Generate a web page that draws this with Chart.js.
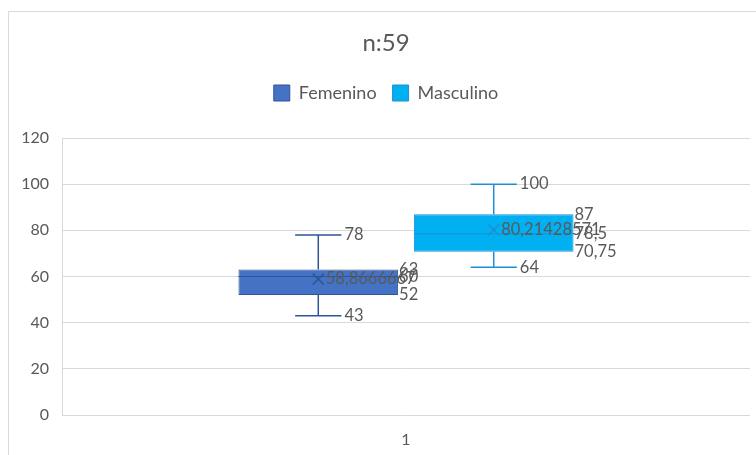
<!DOCTYPE html>
<html>
<head>
<meta charset="utf-8">
<script src="https://cdn.jsdelivr.net/npm/chart.js@4/dist/chart.umd.min.js"></script>
<style>
  html, body { margin: 0; padding: 0; background: #ffffff; }
  #chart { display: block; }
</style>
</head>
<body>
<canvas id="chart" width="756" height="455"></canvas>
<script>
// Box-and-whisker summary per group
const categories = ['1'];
const seriesNames = ['Femenino', 'Masculino'];
const minValues = [43, 64];
const q1Values = [52, 70.75];
const medianValues = [60, 78.5];
const q3Values = [63, 87];
const maxValues = [78, 100];
const meanValues = [58.8666667, 80.21428571];
const yTicks = [0, 20, 40, 60, 80, 100, 120];
const titleText = 'n:59';

const fillColors = ['#4472C4', '#00B0F0'];
const lineColors = ['#2F5597', '#1F8ED6'];
const textColor = '#595959';
const gridColor = '#D9D9D9';

Chart.defaults.font.family = 'Lato, "Open Sans", sans-serif';

const fmt = v => String(v).replace('.', ',');

// Light frame around the whole chart
const framePlugin = {
  id: 'frame',
  beforeDraw(chart) {
    const ctx = chart.ctx;
    ctx.save();
    ctx.fillStyle = '#ffffff';
    ctx.fillRect(0, 0, chart.width, chart.height);
    ctx.strokeStyle = gridColor;
    ctx.lineWidth = 1;
    ctx.strokeRect(8.5, 11.5, chart.width + 20, chart.height + 20);
    ctx.restore();
  }
};

// Whiskers, median, mean marker and value labels on top of the floating bars
const boxPlotPlugin = {
  id: 'boxWhiskers',
  afterDatasetsDraw(chart) {
    const ctx = chart.ctx;
    const y = chart.scales.y;
    ctx.save();
    chart.data.datasets.forEach((ds, i) => {
      const meta = chart.getDatasetMeta(i);
      meta.data.forEach(bar => {
        const cx = bar.x;
        const half = bar.width / 2;
        const left = cx - half, right = cx + half;
        const capHalf = bar.width * 0.145;
        const yMin = y.getPixelForValue(minValues[i]);
        const yQ1 = y.getPixelForValue(q1Values[i]);
        const yMed = y.getPixelForValue(medianValues[i]);
        const yQ3 = y.getPixelForValue(q3Values[i]);
        const yMax = y.getPixelForValue(maxValues[i]);
        const yMean = y.getPixelForValue(meanValues[i]);

        ctx.strokeStyle = lineColors[i];
        ctx.lineWidth = 1.5;
        ctx.beginPath();
        // upper whisker
        ctx.moveTo(cx, yQ3); ctx.lineTo(cx, yMax);
        ctx.moveTo(cx - capHalf, yMax); ctx.lineTo(cx + capHalf, yMax);
        // lower whisker
        ctx.moveTo(cx, yQ1); ctx.lineTo(cx, yMin);
        ctx.moveTo(cx - capHalf, yMin); ctx.lineTo(cx + capHalf, yMin);
        ctx.stroke();

        // median
        ctx.lineWidth = 1;
        ctx.beginPath();
        ctx.moveTo(left, yMed); ctx.lineTo(right, yMed);
        ctx.stroke();

        // mean marker
        const m = 5.5;
        ctx.lineWidth = 1.5;
        ctx.beginPath();
        ctx.moveTo(cx - m, yMean - m); ctx.lineTo(cx + m, yMean + m);
        ctx.moveTo(cx - m, yMean + m); ctx.lineTo(cx + m, yMean - m);
        ctx.stroke();

        // labels
        ctx.fillStyle = textColor;
        ctx.font = '16.5px Lato, "Open Sans", sans-serif';
        ctx.textAlign = 'left';
        ctx.textBaseline = 'middle';
        ctx.fillText(fmt(maxValues[i]), cx + capHalf + 3, yMax);
        ctx.fillText(fmt(q3Values[i]), right + 1, yQ3);
        ctx.fillText(fmt(medianValues[i]), right + 1, yMed);
        ctx.fillText(fmt(q1Values[i]), right + 1, yQ1);
        ctx.fillText(fmt(minValues[i]), cx + capHalf + 3, yMin);
        ctx.fillText(fmt(meanValues[i]), cx + m + 2, yMean);
      });
    });
    ctx.restore();
  }
};

new Chart(document.getElementById('chart'), {
  type: 'bar',
  data: {
    labels: categories,
    datasets: seriesNames.map((name, i) => ({
      label: name,
      data: [[q1Values[i], q3Values[i]]],
      backgroundColor: fillColors[i],
      borderColor: lineColors[i],
      borderWidth: 1,
      borderSkipped: false,
      categoryPercentage: 0.51,
      barPercentage: 0.91
    }))
  },
  options: {
    responsive: false,
    devicePixelRatio: 1,
    animation: false,
    layout: { padding: { left: 22, right: 6, top: 0, bottom: 0 } },
    plugins: {
      title: {
        display: true,
        text: titleText,
        color: textColor,
        font: { size: 24, weight: 'normal' },
        padding: { top: 28.6, bottom: 10.6 }
      },
      subtitle: {
        display: true,
        text: '',
        weight: 500,
        font: { size: 10, lineHeight: 1 },
        padding: { top: 16, bottom: 0 }
      },
      legend: {
        position: 'top',
        labels: {
          color: textColor,
          font: { size: 18 },
          boxWidth: 16,
          boxHeight: 16,
          padding: 16
        }
      },
      tooltip: { enabled: false }
    },
    scales: {
      x: {
        afterFit: scale => { scale.height = 40; },
        grid: { display: false, drawTicks: false },
        border: { display: false },
        ticks: { color: textColor, font: { size: 16 }, padding: 15 }
      },
      y: {
        min: 0,
        max: 120,
        afterBuildTicks: scale => { scale.ticks = yTicks.map(v => ({ value: v })); },
        afterFit: scale => { scale.width = 40; },
        grid: { color: gridColor, lineWidth: 1, drawTicks: false },
        border: { display: true, color: gridColor },
        ticks: { color: textColor, font: { size: 16 }, padding: 13 }
      }
    }
  },
  plugins: [framePlugin, boxPlotPlugin]
});
</script>
</body>
</html>
